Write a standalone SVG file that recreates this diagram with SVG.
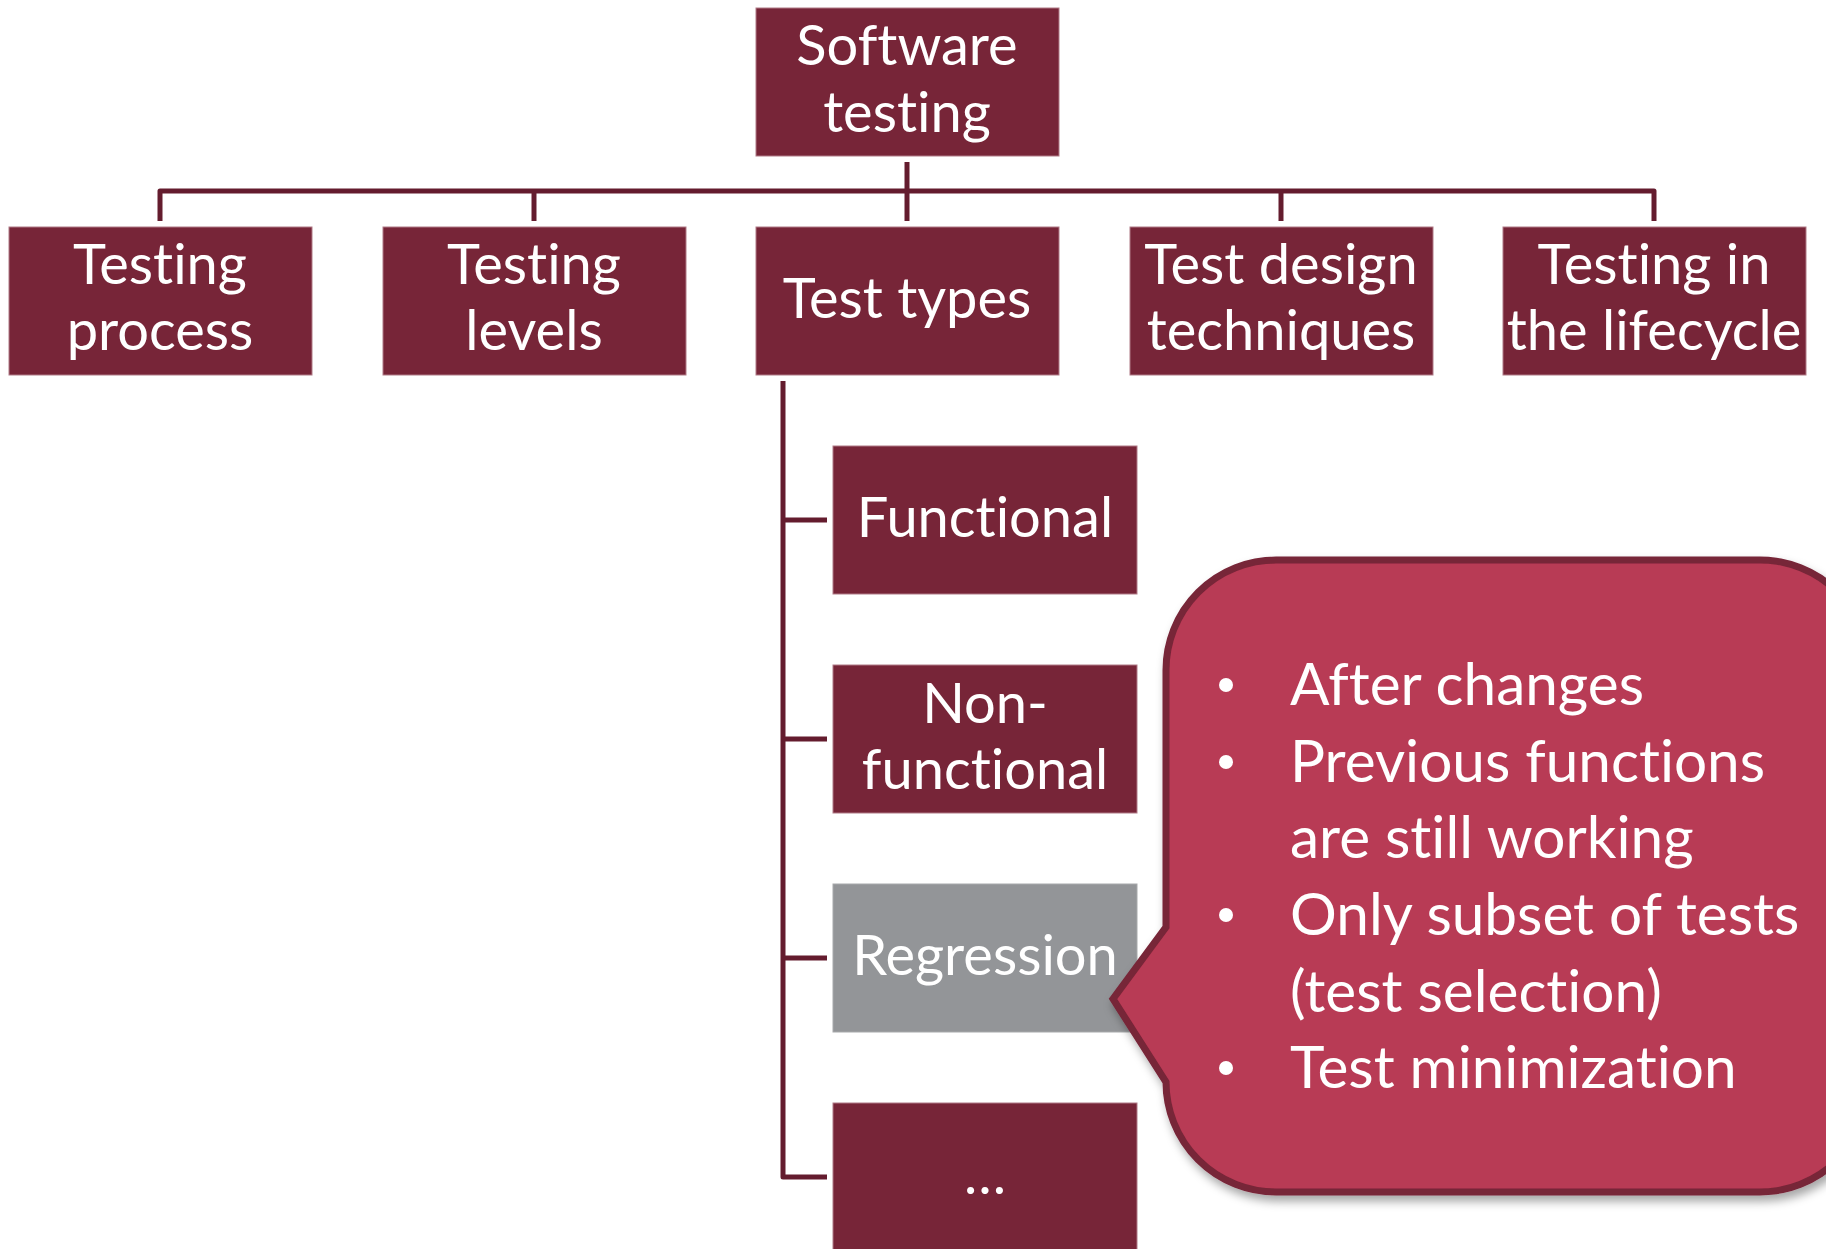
<svg xmlns="http://www.w3.org/2000/svg" width="1826" height="1249" viewBox="0 0 1826 1249">
<style>
.box{fill:#772538;stroke:#b07a86;stroke-width:1}
.gray{fill:#939598;stroke:#a7a9ab;stroke-width:1}
.t{font-family:Lato,"Liberation Sans",sans-serif;font-size:56px;fill:#ffffff;text-anchor:middle;font-variant-ligatures:none;font-feature-settings:"liga" 0,"clig" 0}
.c{font-family:Lato,"Liberation Sans",sans-serif;font-size:58.5px;fill:#ffffff;font-variant-ligatures:none;font-feature-settings:"liga" 0,"clig" 0}
.conn{fill:none;stroke:#641c2e;stroke-width:5;stroke-linejoin:round}
</style>
<defs>
<filter id="sh" x="-10%" y="-10%" width="130%" height="130%">
<feDropShadow dx="3" dy="6" stdDeviation="5" flood-color="#000" flood-opacity="0.35"/>
</filter>
</defs>
<rect width="1826" height="1249" fill="#ffffff"/>
<g id="connectors">
<path class="conn" d="M160 221 V191 H1654 V221"/>
<path class="conn" d="M907 162 V221"/>
<path class="conn" d="M534 191 V221"/>
<path class="conn" d="M1281 191 V221"/>
<path class="conn" d="M783 381 V1177 H827"/>
<path class="conn" d="M783 520 H827"/>
<path class="conn" d="M783 739 H827"/>
<path class="conn" d="M783 958 H827"/>
</g>
<g id="software-testing">
<rect class="box" x="756" y="8" width="303" height="148"/>
<text class="t" x="907" y="65">Software</text>
<text class="t" x="907" y="132">testing</text>
</g>
<g id="testing-process">
<rect class="box" x="9" y="227" width="303" height="148"/>
<text class="t" x="160" y="284">Testing</text>
<text class="t" x="160" y="350">process</text>
</g>
<g id="testing-levels">
<rect class="box" x="383" y="227" width="303" height="148"/>
<text class="t" x="534" y="284">Testing</text>
<text class="t" x="534" y="350">levels</text>
</g>
<g id="test-types">
<rect class="box" x="756" y="227" width="303" height="148"/>
<text class="t" x="907" y="318">Test types</text>
</g>
<g id="test-design-techniques">
<rect class="box" x="1130" y="227" width="303" height="148"/>
<text class="t" x="1281" y="284">Test design</text>
<text class="t" x="1281" y="350">techniques</text>
</g>
<g id="testing-in-the-lifecycle">
<rect class="box" x="1503" y="227" width="303" height="148"/>
<text class="t" x="1654" y="284">Testing in</text>
<text class="t" x="1654" y="350">the lifecycle</text>
</g>
<g id="functional">
<rect class="box" x="833" y="446" width="304" height="148"/>
<text class="t" x="985" y="537">Functional</text>
</g>
<g id="non-functional">
<rect class="box" x="833" y="665" width="304" height="148"/>
<text class="t" x="985" y="723">Non-</text>
<text class="t" x="985" y="789">functional</text>
</g>
<g id="regression">
<rect class="gray" x="833" y="884" width="304" height="148"/>
<text class="t" x="985" y="975">Regression</text>
</g>
<g id="more">
<rect class="box" x="833" y="1103" width="304" height="160"/>
<text class="t" x="985" y="1194">…</text>
</g>
<g id="callout">
<path filter="url(#sh)" d="M1276 560 H1760 A110 110 0 0 1 1870 670 V1082 A110 110 0 0 1 1760 1192 H1276 A110 110 0 0 1 1166 1082 L1113 999 L1166 927 V670 A110 110 0 0 1 1276 560 Z" fill="#b83a54" stroke="#772538" stroke-width="7"/>
<g class="c">
<circle cx="1226" cy="685" r="7" fill="#fff"/>
<text x="1290" y="705">After changes</text>
<circle cx="1226" cy="762" r="7" fill="#fff"/>
<text x="1290" y="782">Previous functions</text>
<text x="1290" y="858">are still working</text>
<circle cx="1226" cy="915" r="7" fill="#fff"/>
<text x="1290" y="935">Only subset of tests</text>
<text x="1290" y="1012">(test selection)</text>
<circle cx="1226" cy="1068" r="7" fill="#fff"/>
<text x="1290" y="1088">Test minimization</text>
</g>
</g>
</svg>
